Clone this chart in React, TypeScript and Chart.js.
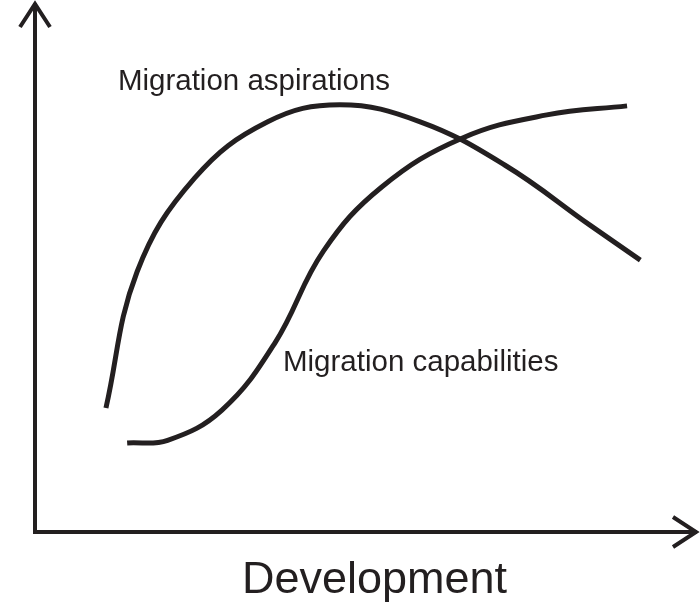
import React, { useEffect, useRef } from "react";
import { Chart, registerables, ChartConfiguration, Plugin } from "chart.js";

Chart.register(...registerables);

// development level (0-100) vs relative level (0-100)
const aspirationX = [10.7, 15.4, 24.1, 35.1, 46.0, 58.1, 70.9, 83.7, 91.3];
const aspirationY = [23.4, 49.1, 66.8, 77.4, 80.6, 77.4, 69.2, 57.9, 51.3];

const capabilityX = [13.9, 20.0, 28.2, 36.2, 43.5, 52.3, 64.4, 77.2, 89.3];
const capabilityY = [16.8, 17.3, 23.0, 35.7, 53.0, 65.1, 74.3, 78.7, 80.4];

const seriesLabels = ["Migration aspirations", "Migration capabilities"];
const labelAnchorX = [12.5, 37.4];
const labelAnchorY = [83.4, 30.4];
const xTitle = "Development";
const xTitleAnchor = 51.2;

const INK = "#231f20";
const FONT = "'Liberation Sans', Arial, sans-serif";

const toPoints = (xs: number[], ys: number[]) => xs.map((x, i) => ({ x, y: ys[i] }));

// axis lines with open arrowheads, plus the curve labels and axis title
const sketchPlugin: Plugin<"line"> = {
  id: "sketch",
  afterDraw(chart) {
    const { ctx, chartArea, scales } = chart;
    const { left, right, top, bottom } = chartArea;
    ctx.save();
    ctx.strokeStyle = INK;
    ctx.lineWidth = 4;
    ctx.lineJoin = "miter";
    ctx.lineCap = "butt";

    ctx.beginPath();
    ctx.moveTo(left, bottom + 2);
    ctx.lineTo(left, top + 1);
    ctx.moveTo(left - 2, bottom);
    ctx.lineTo(right - 1, bottom);
    ctx.stroke();

    ctx.beginPath();
    ctx.moveTo(left - 15, top + 25);
    ctx.lineTo(left, top + 2);
    ctx.lineTo(left + 15, top + 25);
    ctx.stroke();

    ctx.beginPath();
    ctx.moveTo(right - 25, bottom - 15);
    ctx.lineTo(right - 2, bottom);
    ctx.lineTo(right - 25, bottom + 15);
    ctx.stroke();

    ctx.fillStyle = INK;
    ctx.font = `29.5px ${FONT}`;
    ctx.textAlign = "left";
    ctx.textBaseline = "alphabetic";
    seriesLabels.forEach((label, i) => {
      ctx.fillText(
        label,
        scales.x.getPixelForValue(labelAnchorX[i]),
        scales.y.getPixelForValue(labelAnchorY[i])
      );
    });

    ctx.font = `45px ${FONT}`;
    ctx.textAlign = "center";
    ctx.fillText(xTitle, scales.x.getPixelForValue(xTitleAnchor), bottom + 61);
    ctx.restore();
  },
};

const SketchChart = () => {
  const chartRef = useRef<HTMLCanvasElement | null>(null);
  const chartInstanceRef = useRef<Chart<"line"> | null>(null);

  useEffect(() => {
    const ctx = chartRef.current?.getContext("2d");
    if (chartInstanceRef.current) {
      chartInstanceRef.current.destroy();
    }
    if (ctx) {
      const lineStyle = {
        borderColor: INK,
        borderWidth: 5,
        pointRadius: 0,
        fill: false,
        tension: 0.4,
        borderCapStyle: "butt" as const,
      };
      const config: ChartConfiguration<"line"> = {
        type: "line",
        data: {
          datasets: [
            { label: seriesLabels[0], data: toPoints(aspirationX, aspirationY), ...lineStyle },
            { label: seriesLabels[1], data: toPoints(capabilityX, capabilityY), ...lineStyle },
          ],
        },
        options: {
          responsive: false,
          animation: false,
          layout: { padding: { top: 2, right: 2, left: 0, bottom: 0 } },
          plugins: {
            legend: { display: false },
            tooltip: { enabled: false },
          },
          scales: {
            x: {
              type: "linear",
              min: 0,
              max: 100,
              grid: { display: false },
              border: { display: false },
              ticks: { display: false },
              afterFit: (scale) => {
                scale.height = 71;
              },
            },
            y: {
              type: "linear",
              min: 0,
              max: 100,
              grid: { display: false },
              border: { display: false },
              ticks: { display: false },
              afterFit: (scale) => {
                scale.width = 35;
              },
            },
          },
        },
        plugins: [sketchPlugin],
      };
      chartInstanceRef.current = new Chart(ctx, config);
    }
    return () => {
      if (chartInstanceRef.current) {
        chartInstanceRef.current.destroy();
        chartInstanceRef.current = null;
      }
    };
  }, []);

  return (
    <div style={{ position: "absolute", left: 0, top: 0, width: 700, height: 603, background: "#fff" }}>
      <canvas ref={chartRef} width={700} height={603} />
    </div>
  );
};

export default function App() {
  return <SketchChart />;
}
